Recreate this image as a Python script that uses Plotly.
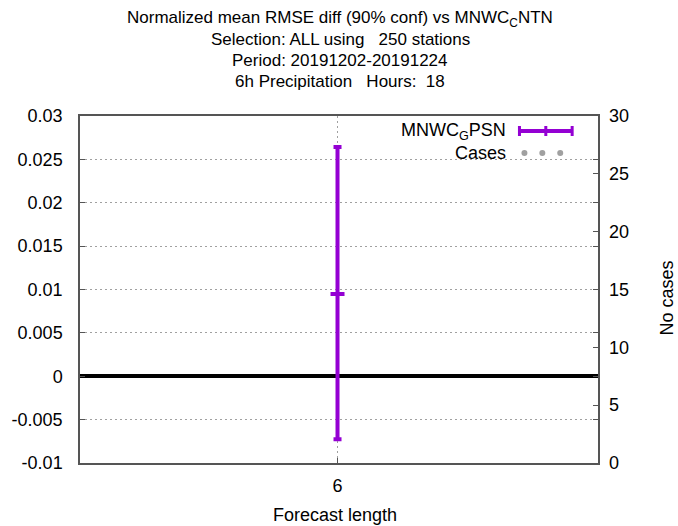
import plotly.graph_objects as go

# Data
forecast_length = [6]
x_ticklabels = ["6"]
mean_diff = [0.00948]
conf_upper = [0.02643]
conf_lower = [-0.00727]
y_tickvals = [-0.01, -0.005, 0, 0.005, 0.01, 0.015, 0.02, 0.025, 0.03]
y_ticklabels = ["-0.01", "-0.005", "0", "0.005", "0.01", "0.015", "0.02", "0.025", "0.03"]
y2_tickvals = [0, 5, 10, 15, 20, 25, 30]
series_name = "MNWC<sub>G</sub>PSN"
ref_name = "MNWC<sub>C</sub>NTN"
title_lines = [
    "Normalized mean RMSE diff (90% conf) vs " + ref_name,
    "Selection: ALL using   250 stations",
    "Period: 20191202-20191224",
    "6h Precipitation   Hours:  18",
]

FONT = "Liberation Sans, Arial, sans-serif"
PURPLE = "#9400D3"
GREY = "#a0a0a0"
AXC = "#555555"
FS = 18
FT = 17

fig = go.Figure()

fig.add_trace(go.Scatter(
    x=forecast_length, y=mean_diff, mode="markers",
    marker=dict(symbol="line-ew", size=10, line=dict(color=PURPLE, width=4), color=PURPLE),
    error_y=dict(type="data", symmetric=False,
                 array=[u - m for u, m in zip(conf_upper, mean_diff)],
                 arrayminus=[m - l for l, m in zip(conf_lower, mean_diff)],
                 color=PURPLE, thickness=4, width=4),
    showlegend=False))
# secondary axis holder (no visible cases points in the reference)
fig.add_trace(go.Scatter(x=[], y=[], yaxis="y2", showlegend=False))

L, R, T, B = 77, 598, 116, 463
PW, PH = R - L, B - T
def px(x):
    return (x - L) / PW
def py(y):
    return (B - y) / PH

shapes = []
lx0, lx1, ly = 519, 572, 131
shapes.append(dict(type="line", xref="paper", yref="paper", x0=px(lx0), x1=px(lx1), y0=py(ly), y1=py(ly),
                   line=dict(color=PURPLE, width=4)))
for cx in (lx0, (lx0 + lx1) / 2, lx1):
    shapes.append(dict(type="line", xref="paper", yref="paper", x0=px(cx), x1=px(cx),
                       y0=py(ly - 5), y1=py(ly + 5), line=dict(color=PURPLE, width=3)))
for cx in (524, 542, 560):
    shapes.append(dict(type="circle", xref="paper", yref="paper", xsizemode="pixel", ysizemode="pixel",
                       xanchor=px(cx), yanchor=py(153), x0=-3, x1=3, y0=-3, y1=3,
                       fillcolor=GREY, line=dict(width=0)))

annotations = [
    dict(text=series_name, xref="paper", yref="paper", x=px(507), y=py(131), xanchor="right",
         yanchor="middle", showarrow=False, font=dict(size=FS, color="black", family=FONT)),
    dict(text="Cases", xref="paper", yref="paper", x=px(507), y=py(153), xanchor="right",
         yanchor="middle", showarrow=False, font=dict(size=FS, color="black", family=FONT)),
]
for i, (line, yy) in enumerate(zip(title_lines, [19, 40, 60, 81])):
    annotations.append(dict(text=line, xref="paper", yref="paper", x=px(339), y=py(yy),
                            xanchor="center", yanchor="middle", showarrow=False,
                            font=dict(size=FT, color="black", family=FONT)))
annotations.append(dict(text="Forecast length", xref="paper", yref="paper", x=px(333), y=py(515),
                        xanchor="center", yanchor="middle", showarrow=False,
                        font=dict(size=FS, color="black", family=FONT)))
annotations.append(dict(text="No cases", xref="paper", yref="paper", x=px(667), y=py(298),
                        xanchor="center", yanchor="middle", showarrow=False, textangle=-90,
                        font=dict(size=FS, color="black", family=FONT)))

fig.update_layout(
    width=678, height=526,
    margin=dict(l=L, r=678 - R, t=T, b=526 - B),
    paper_bgcolor="white", plot_bgcolor="white",
    font=dict(family=FONT, size=FS, color="black"),
    xaxis=dict(range=[5, 7.0116], tickvals=forecast_length, ticktext=x_ticklabels,
               showgrid=True, gridcolor=GREY, griddash="2px,3px", gridwidth=1,
               ticks="inside", ticklen=5, tickcolor=AXC, ticklabelstandoff=6,
               showline=True, linecolor=AXC, linewidth=1.5, mirror=True,
               zeroline=False, tickfont=dict(size=FS)),
    yaxis=dict(range=[-0.01, 0.03], tickvals=y_tickvals, ticktext=y_ticklabels,
               showgrid=True, gridcolor=GREY, griddash="2px,3px", gridwidth=1,
               ticks="inside", ticklen=5, tickcolor=AXC, ticklabelstandoff=12,
               showline=True, linecolor=AXC, linewidth=1.5, mirror="ticks",
               zeroline=True, zerolinecolor="black", zerolinewidth=4, tickfont=dict(size=FS)),
    yaxis2=dict(range=[0, 30], tickvals=y2_tickvals, overlaying="y", side="right",
                showgrid=False, zeroline=False,
                ticks="inside", ticklen=5, tickcolor=AXC, ticklabelstandoff=10,
                tickfont=dict(size=FS)),
    shapes=shapes, annotations=annotations,
)

fig.write_html("out.html")
